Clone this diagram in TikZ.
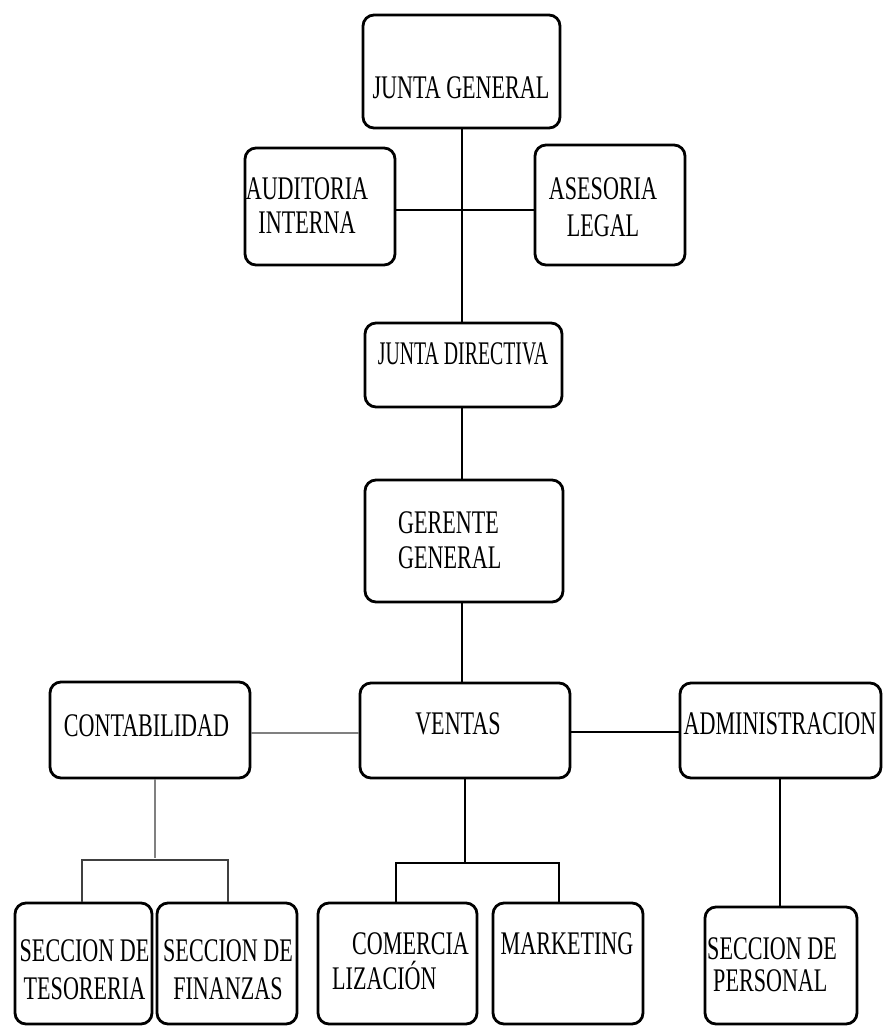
\documentclass[tikz,border=0pt]{standalone}
\usepackage{fontspec}
\setmainfont{Liberation Serif}[FakeStretch=0.67]
\newfontfamily\narrowserif{Liberation Serif}[FakeStretch=0.6]
\begin{document}
\begin{tikzpicture}[x=1pt,y=-1pt,
  box/.style={draw=black, line width=2.8pt, rounded corners=11pt, inner sep=0pt},
  lbl/.style={inner sep=0pt, font=\fontsize{33}{35}\selectfont},
  ln/.style={line width=1.3pt, draw=black},
  gln/.style={line width=1.8pt, draw=black!50}]
\useasboundingbox (0,0) rectangle (883,1026);
% boxes
\node[box, minimum width=197pt, minimum height=113pt] (JG) at (461.5,71.5) {};
\node[box, minimum width=150pt, minimum height=117pt] (AI) at (320,206.5) {};
\node[box, minimum width=150pt, minimum height=120pt] (AL) at (610,205) {};
\node[box, minimum width=197pt, minimum height=84pt] (JD) at (463.5,365) {};
\node[box, minimum width=198pt, minimum height=122pt] (GG) at (464,541) {};
\node[box, minimum width=200pt, minimum height=96pt] (CO) at (150,730) {};
\node[box, minimum width=210pt, minimum height=95pt] (VE) at (465,730.5) {};
\node[box, minimum width=201pt, minimum height=95pt] (AD) at (780.5,730.5) {};
\node[box, minimum width=137pt, minimum height=121pt] (ST) at (83.5,963.5) {};
\node[box, minimum width=140pt, minimum height=121pt] (SF) at (227,963.5) {};
\node[box, minimum width=159pt, minimum height=121pt] (CM) at (397.5,963.5) {};
\node[box, minimum width=150pt, minimum height=121pt] (MK) at (568,963.5) {};
\node[box, minimum width=152pt, minimum height=117pt] (SP) at (781,965.5) {};
% texts
\node[lbl, anchor=north] (tJG) at (461,76) {JUNTA GENERAL};
\node[lbl, anchor=north, align=center, font=\fontsize{33}{34}\selectfont] (tAI) at (307,177) {AUDITORIA\\INTERNA};
\node[lbl, anchor=north, align=center, font=\fontsize{33}{37}\selectfont] (tAL) at (603,177) {ASESORIA\\LEGAL};
\node[lbl, anchor=north, font=\fontsize{33}{35}\narrowserif] (tJD) at (463,342) {JUNTA DIRECTIVA};
\node[lbl, anchor=north west, align=left] (tGG) at (398,511) {GERENTE\\GENERAL};
\node[lbl, anchor=north] (tCO) at (146.5,714) {CONTABILIDAD};
\node[lbl, anchor=north] (tVE) at (458,712) {VENTAS};
\node[lbl, anchor=north] (tAD) at (780,712) {ADMINISTRACION};
\node[lbl, anchor=north, align=center, font=\fontsize{33}{38}\selectfont] (tST) at (84.5,939) {SECCION DE\\TESORERIA};
\node[lbl, anchor=north, align=center, font=\fontsize{33}{38}\selectfont] (tSF) at (228,939) {SECCION DE\\FINANZAS};
\node[lbl, anchor=north west, align=left] (tCM) at (332,932) {\hspace*{20pt}COMERCIA\\LIZACIÓN};
\node[lbl, anchor=north] (tMK) at (567,932) {MARKETING};
\node[lbl, anchor=north west, align=left, font=\fontsize{33}{32}\selectfont] (tSP) at (707,937) {SECCION DE\\\hspace*{6pt}PERSONAL};
% connectors
\coordinate (h1) at (462,210);
\coordinate (bC) at (155,858);
\coordinate (bV) at (465,863);
\draw[ln] (JG.south -| h1) -- (JD.north -| h1);
\draw[ln] (AI.east |- h1) -- (AL.west |- h1);
\draw[ln] (JD.south -| h1) -- (GG.north -| h1);
\draw[ln] (GG.south -| h1) -- (VE.north -| h1);
\draw[gln] (CO.east |- 0,733) -- (VE.west |- 0,733);
\draw[ln] (VE.east |- 0,732) -- (AD.west |- 0,732);
\draw[gln] (CO.south -| bC) -- (bC);
\draw[ln, draw=black!75] (ST.north -| 82,0) -- (82,860) -- (228,860) -- (SF.north -| 228,0);
\draw[ln] (VE.south -| bV) -- (bV);
\draw[ln] (CM.north -| 396,0) -- (396,863) -- (559,863) -- (MK.north -| 559,0);
\draw[ln] (AD.south -| 780,0) -- (SP.north -| 780,0);
\end{tikzpicture}
\end{document}
